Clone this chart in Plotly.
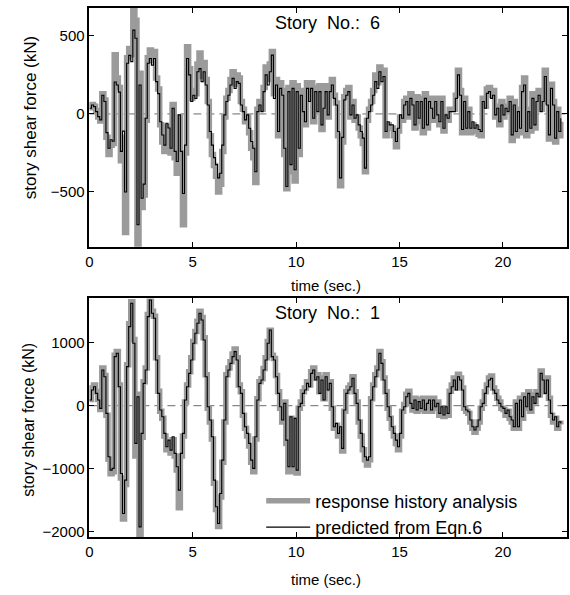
import numpy as np
import plotly.graph_objects as go

dt = 0.1  # sampling step of the digitised records (s)

# ---- Story 6 ----
story6_rha = [
    40, 60, 50, 20, -20, -45, 130, 90, -150, -260,
    -200, -190, 380, 230, 170, -300, -150, -760, 360, 420,
    380, 680, 600, -850, 260, -600, -520, -40, 360, 410,
    340, 400, 230, 160, -70, -180, -240, -80, -110, -250,
    60, -280, -380, -20, -300, -710, -250, 430, 290, 100,
    150, 130, 320, 390, 240, 330, 220, 80, -140, -260,
    -330, -400, -500, -450, -240, -20, 100, 150, 220, 270,
    190, 250, 230, 80, 30, -50, -20, -120, -220, -280,
    -440, 30, 80, 30, 170, 300, 220, 320, 400, 130,
    220, -140, 200, 150, -260, -480, 170, -370, 200, -430,
    180, -260, 150, 30, -70, 200, 100, 200, -50, 170,
    30, 180, -100, 50, 180, -20, 170, 220, 120, 70,
    -140, -460, -180, 110, 150, 170, -20, 80, -40, -20,
    -90, -140, -190, -370, -40, 30, 80, 150, 250, 200,
    300, 240, 280, -140, -70, -90, -90, -140, -210, -110,
    -20, -40, 80, 100, -20, 130, 80, -90, 110, -50,
    100, -120, 130, -90, 100, 50, -40, 100, -20, -70,
    100, -110, -20, -40, 30, 30, 30, 120, 280, 150,
    -120, 100, -120, 30, -120, -70, -110, -90, -130, -140,
    100, 50, 160, 170, 120, 150, -20, 50, -70, 80,
    -20, 50, 30, 100, -170, 80, -140, 30, -120, 170,
    230, -140, 30, -110, 130, -90, 100, 150, 30, 100,
    280, 80, -160, 190, 80, -180, 30, -140, -50,
]
story6_pred = [
    36, 57, 47, 15, -17, -38, 120, 80, -120, -220,
    -165, -175, 205, 185, 140, -240, -110, -500, 325, 375,
    335, 537, 485, -710, 185, -540, -450, -28, 325, 355,
    313, 355, 207, 130, -50, -135, -200, -60, -90, -220,
    36, -240, -305, -6, -240, -510, -200, 355, 250, 80,
    120, 100, 270, 290, 207, 270, 185, 57, -113, -200,
    -280, -325, -410, -380, -200, -6, 80, 120, 185, 228,
    164, 207, 196, 57, 15, -38, -6, -92, -177, -220,
    -370, 15, 57, 15, 143, 250, 185, 270, 377, 100,
    185, -113, 164, 120, -220, -465, 143, -325, 164, -358,
    143, -220, 120, 15, -50, 164, 80, 164, -28, 143,
    15, 143, -70, 36, 143, -6, 143, 185, 100, 57,
    -113, -410, -150, 90, 120, 143, -6, 57, -28, -6,
    -70, -113, -155, -347, -28, 15, 57, 120, 207, 164,
    270, 207, 240, -113, -50, -70, -70, -113, -177, -92,
    -6, -28, 57, 80, -6, 100, 57, -70, 80, -28,
    80, -92, 100, -70, 80, 36, -28, 80, -6, -50,
    80, -92, -6, -28, 15, 15, 15, 100, 250, 120,
    -100, 80, -92, 15, -92, -50, -92, -70, -100, -113,
    80, 36, 132, 143, 100, 120, -6, 36, -50, 57,
    -6, 36, 15, 80, -134, 57, -113, 15, -92, 143,
    185, -113, 15, -92, 100, -70, 80, 120, 15, 80,
    240, 57, -134, 164, 57, -155, 15, -113, -28,
]

# ---- Story 1 ----
story1_rha = [
    100, 280, 330, 220, 100, -60, 600, 480, -150, -850,
    -1080, -1050, 800, 860, 330, -1150, -1800, -1250, 650, 1300,
    1650, 1050, -800, 180, -2090, -500, 380, 600, 1450, 1700,
    1500, 1420, 760, 230, -90, -200, -480, -700, -600, -750,
    -540, -800, -1020, -1620, -800, -480, 60, 330, 540, 760,
    1020, 1180, 1340, 1500, 1400, 1080, 490, -40, -260, -530,
    -1230, -1650, -1920, -1450, -900, -260, 490, 600, 700, 820,
    900, 760, 330, 220, -150, -360, -480, -640, -900, -1050,
    -530, 110, 380, 430, 590, 760, 1020, 1200, 800, 750,
    480, 220, -40, -260, 60, -600, -1050, -200, -1050, -230,
    -1070, -40, 60, 220, 280, 380, 330, 540, 600, 440,
    490, 220, 440, 110, 490, 270, 380, -40, -360, -310,
    -480, -360, -720, -90, 220, 280, 330, 460, 220, 60,
    -260, -480, -700, -860, -940, -860, 110, 330, 490, 600,
    860, 700, 440, 220, -40, -200, -360, -480, -600, -700,
    -480, -90, 20, 180, 230, 60, -70, 120, -90, 90,
    -60, 120, -90, 60, 120, -90, 120, -40, 60, -150,
    -40, -170, -40, -150, 230, 330, 440, 280, 500, 440,
    280, -40, -90, -120, -260, -360, -420, -360, -260, -40,
    60, 220, 330, 440, 470, 280, 220, 120, 60, -40,
    -60, -150, -90, -200, -260, -360, 60, -360, 120, -200,
    170, -40, 220, -90, 170, 60, 220, 170, 550, 440,
    220, 440, 120, -150, -260, -200, -360, -280, -300,
]
story1_pred = [
    90, 250, 300, 196, 90, -42, 567, 460, -122, -811,
    -1023, -996, 779, 832, 302, -1076, -1712, -1182, 620, 1256,
    1627, 991, -599, 143, -1924, -440, 355, 567, 1415, 1680,
    1468, 1389, 726, 196, -69, -175, -440, -652, -546, -705,
    -493, -758, -970, -1341, -758, -440, 90, 302, 514, 726,
    991, 1150, 1309, 1468, 1362, 1044, 461, -16, -228, -493,
    -1182, -1606, -1871, -1394, -864, -228, 461, 567, 673, 779,
    859, 726, 302, 196, -122, -334, -440, -599, -864, -996,
    -493, 90, 355, 408, 567, 726, 991, 1203, 779, 726,
    461, 196, -16, -228, 37, -546, -970, -175, -970, -201,
    -1023, -16, 37, 196, 249, 355, 302, 514, 567, 408,
    461, 196, 408, 90, 461, 249, 355, -16, -334, -281,
    -440, -334, -678, -69, 196, 249, 302, 435, 196, 37,
    -228, -440, -652, -811, -864, -811, 90, 302, 461, 567,
    832, 673, 408, 196, -16, -175, -334, -440, -546, -652,
    -440, -69, -16, 143, 196, 37, -42, 90, -69, 64,
    -42, 90, -69, 37, 90, -69, 90, -16, 37, -122,
    -16, -148, -16, -122, 196, 302, 408, 249, 461, 408,
    249, -16, -69, -95, -228, -334, -387, -334, -228, -16,
    37, 196, 302, 408, 435, 249, 196, 90, 37, -16,
    -42, -122, -69, -175, -228, -334, 37, -334, 90, -175,
    143, -16, 196, -69, 143, 37, 196, 143, 514, 408,
    196, 408, 90, -122, -228, -175, -334, -254, -281,
]

x_ticks = [0, 5, 10, 15, 20]
y6_ticks = [-500, 0, 500]
y1_ticks = [-2000, -1000, 0, 1000]
titles = ["Story  No.:  6", "Story  No.:  1"]
legend_names = ["response history analysis", "predicted from Eqn.6"]

W, H = 570, 595
def px(x):
    return x / W
def py(y):
    return 1 - y / H

def tt(n):
    return np.round(np.arange(n) * dt, 2)

GRAY = "#9b9b9b"
FONT = "Liberation Sans, Arial, sans-serif"
SHAPE = "hv"

fig = go.Figure()
fig.add_trace(go.Scatter(x=tt(len(story6_rha)), y=story6_rha, mode="lines",
                         line=dict(color=GRAY, width=5.5, shape=SHAPE), xaxis="x", yaxis="y",
                         showlegend=False))
fig.add_trace(go.Scatter(x=tt(len(story6_pred)), y=story6_pred, mode="lines",
                         line=dict(color="black", width=1.1, shape=SHAPE), xaxis="x", yaxis="y",
                         showlegend=False))
fig.add_trace(go.Scatter(x=tt(len(story1_rha)), y=story1_rha, mode="lines",
                         line=dict(color=GRAY, width=5.5, shape=SHAPE), xaxis="x2", yaxis="y2",
                         name=legend_names[0]))
fig.add_trace(go.Scatter(x=tt(len(story1_pred)), y=story1_pred, mode="lines",
                         line=dict(color="black", width=1.1, shape=SHAPE), xaxis="x2", yaxis="y2",
                         name=legend_names[1]))

axis_common = dict(showline=True, linecolor="black", linewidth=1.6, mirror="ticks",
                   ticks="inside", ticklen=5, tickwidth=1, tickcolor="black",
                   showgrid=False, zeroline=False,
                   tickfont=dict(family=FONT, size=15, color="black"))
xdom = [px(86), px(567)]
fig.update_layout(
    width=W, height=H, margin=dict(l=0, r=0, t=0, b=0),
    paper_bgcolor="white", plot_bgcolor="white",
    font=dict(family=FONT, color="black"),
    xaxis=dict(domain=xdom, range=[0, 23.1], tickvals=x_ticks, anchor="y", **axis_common),
    yaxis=dict(domain=[py(248), py(8)], range=[-851, 679], tickvals=y6_ticks, anchor="x", **axis_common),
    xaxis2=dict(domain=xdom, range=[0, 23.1], tickvals=x_ticks, anchor="y2", **axis_common),
    yaxis2=dict(domain=[py(540), py(300)], range=[-2090, 1703], tickvals=y1_ticks, anchor="x2", **axis_common),
    legend=dict(x=px(259), y=py(485), xanchor="left", yanchor="top",
                bgcolor="rgba(0,0,0,0)", font=dict(family=FONT, size=18, color="black"),
                tracegroupgap=0, itemwidth=44),
    shapes=[
        dict(type="line", xref="x", yref="y", x0=0, x1=23.1, y0=0, y1=0, layer="below",
             line=dict(color="#6a6a6a", width=1, dash="8px,5px")),
        dict(type="line", xref="x2", yref="y2", x0=0, x1=23.1, y0=0, y1=0, layer="below",
             line=dict(color="#6a6a6a", width=1, dash="8px,5px")),
    ],
    annotations=[
        dict(text=titles[0], x=px(326), y=py(23), xref="paper", yref="paper",
             showarrow=False, font=dict(size=18), xanchor="center", yanchor="middle"),
        dict(text=titles[1], x=px(326), y=py(315), xref="paper", yref="paper",
             showarrow=False, font=dict(size=18), xanchor="center", yanchor="middle"),
        dict(text="story shear force (kN)", x=px(27), y=py(118), xref="paper", yref="paper",
             showarrow=False, textangle=-90, font=dict(size=17), xanchor="center", yanchor="middle"),
        dict(text="story shear force (kN)", x=px(25), y=py(422), xref="paper", yref="paper",
             showarrow=False, textangle=-90, font=dict(size=16), xanchor="center", yanchor="middle"),
        dict(text="time (sec.)", x=px(324), y=py(287), xref="paper", yref="paper",
             showarrow=False, font=dict(size=15), xanchor="center", yanchor="middle"),
        dict(text="time (sec.)", x=px(324), y=py(582), xref="paper", yref="paper",
             showarrow=False, font=dict(size=15), xanchor="center", yanchor="middle"),
    ],
)

fig.write_html("out.html")
